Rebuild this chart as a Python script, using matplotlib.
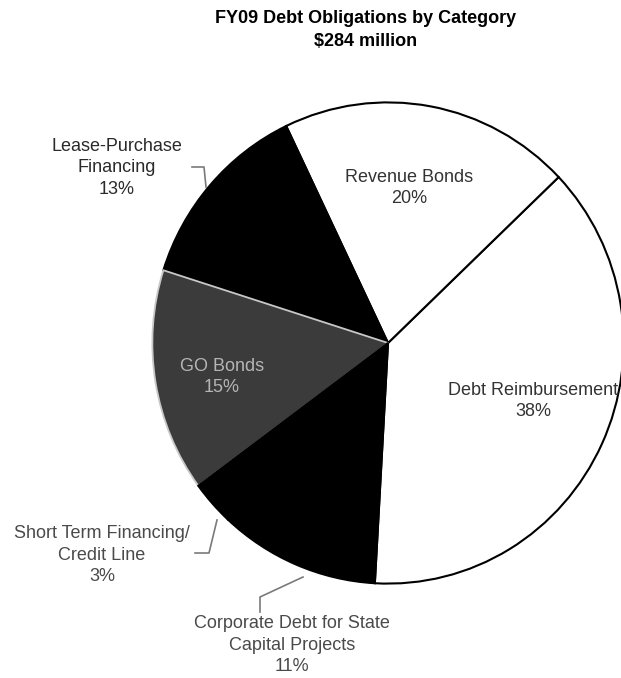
import matplotlib
matplotlib.use("Agg")
import matplotlib.pyplot as plt

plt.rcParams['font.family'] = ['Liberation Sans', 'DejaVu Sans']

title = "FY09 Debt Obligations by Category\n$284 million"
categories = ["Debt Reimbursement", "Revenue Bonds", "Lease-Purchase\nFinancing",
              "GO Bonds", "Short Term Financing/\nCredit Line",
              "Corporate Debt for State\nCapital Projects"]
shares = [38, 20, 13, 15, 3, 11]
colors = ["white", "white", "black", "#3b3b3b", "black", "black"]

W, H = 621, 678
fig = plt.figure(figsize=(W / 100, H / 100), dpi=100)

# pie axes placed in pixel space: center ~(388,343)
cx, cy, rx, ry = 388, 343, 238, 243
ax = fig.add_axes([(cx - rx) / W, 1 - (cy + ry) / H, 2 * rx / W, 2 * ry / H])
start = 43.6 - shares[0] * 3.6
wedges, _ = ax.pie(shares, colors=colors, startangle=start, counterclock=True,
                   wedgeprops=dict(edgecolor="black", linewidth=1.5))
go = wedges[3]
go.set_edgecolor("#c8c8c8")
go.set_linewidth(1.3)
ax.set_xlim(-1.01, 1.01)
ax.set_ylim(-1.01, 1.01)
ax.set_aspect('auto')
ax.axis('off')

# overlay in pixel coords for text and leader lines
ov = fig.add_axes([0, 0, 1, 1])
ov.set_xlim(0, W)
ov.set_ylim(H, 0)
ov.axis('off')
ov.patch.set_alpha(0)

ov.text(366, 30, title, ha='center', va='center', fontsize=13,
        fontweight='bold', color='black', linespacing=1.5)

label_pos = [(533, 401), (409, 188), (117, 168), (222, 377), (102, 555), (292, 645)]
label_col = ['#333333', '#333333', '#2a2a2a', '#b5b5b5', '#4a4a4a', '#4a4a4a']
label_ls = [1.38, 1.38, 1.38, 1.38, 1.38, 1.32]
for name, val, (x, y), c, ls in zip(categories, shares, label_pos, label_col, label_ls):
    ov.text(x, y, f"{name}\n{val}%", ha='center', va='center', fontsize=13,
            color=c, linespacing=ls)

leader = dict(color='#7a7a7a', linewidth=1.2)
ov.plot([192, 204, 206], [167, 167, 187], **leader)
ov.plot([195, 209, 217], [553, 553, 520], **leader)
ov.plot([260, 260, 303], [612, 597, 577], **leader)

fig.savefig("out.png", dpi=100, facecolor='white')
